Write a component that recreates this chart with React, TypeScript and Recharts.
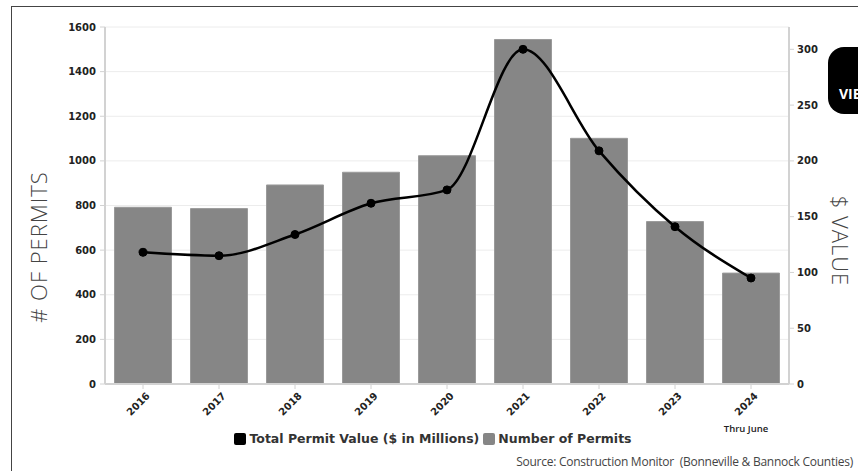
import React from 'react'
import { ComposedChart, Bar, Line, XAxis, YAxis, CartesianGrid, Legend, Text } from 'recharts'

const years = ['2016', '2017', '2018', '2019', '2020', '2021', '2022', '2023', '2024']
const permitCounts = [792, 786, 892, 949, 1023, 1544, 1101, 728, 497]
const permitValues = [118, 115, 134, 162, 174, 300, 209, 141, 95]
const yearNotes = ['', '', '', '', '', '', '', '', 'Thru June']

const countTicks = [0, 200, 400, 600, 800, 1000, 1200, 1400, 1600]
const valueTicks = [0, 50, 100, 150, 200, 250, 300]

const legendItems = [
  { label: 'Total Permit Value ($ in Millions)', color: '#000' },
  { label: 'Number of Permits', color: '#868686' },
]

const data = years.map((year, i) => ({
  year,
  count: permitCounts[i],
  value: permitValues[i],
}))

const tickFont = { fill: '#222', fontSize: 10, fontWeight: 700, fontFamily: 'DejaVu Sans' }
const axisGray = '#d2d2d2'

// year label slanted up to the right, with an optional note under it
function YearTick(props: any) {
  const { x, y, payload, index } = props
  const note = yearNotes[index]
  return (
    <g>
      <Text
        x={x + 5}
        y={y + 3}
        angle={-45}
        textAnchor="end"
        verticalAnchor="middle"
        {...tickFont}
      >
        {payload.value}
      </Text>
      {note ? (
        <text x={x - 5} y={y + 41} textAnchor="middle" fill="#222" fontSize={9.5} fontFamily="Open Sans" fontWeight={600}>
          {note}
        </text>
      ) : null}
    </g>
  )
}

function LegendRow() {
  return (
    <div style={{ height: 40, paddingTop: 6, boxSizing: 'border-box', textAlign: 'center', paddingLeft: 12 }}>
      {legendItems.map((item) => (
        <span
          key={item.label}
          style={{
            display: 'inline-flex',
            alignItems: 'center',
            marginRight: 4,
            fontFamily: 'DejaVu Sans',
            fontWeight: 700,
            fontSize: 12.5,
            color: '#333',
            lineHeight: '18px',
          }}
        >
          <span
            style={{
              display: 'inline-block',
              width: 12,
              height: 12,
              borderRadius: 2,
              background: item.color,
              marginRight: 3,
            }}
          />
          {item.label}
        </span>
      ))}
    </div>
  )
}

const sideLabel = {
  position: 'absolute' as const,
  whiteSpace: 'nowrap' as const,
  fontFamily: 'Open Sans',
  fontWeight: 300,
  fontSize: 22,
  letterSpacing: 1,
  color: '#444',
  lineHeight: '22px',
}

export default function App() {
  return (
    <div
      style={{
        position: 'absolute',
        left: 0,
        top: 0,
        width: 858,
        height: 471,
        overflow: 'hidden',
        background: '#fff',
      }}
    >
      <div
        style={{
          position: 'absolute',
          left: 11,
          top: 6,
          width: 900,
          height: 500,
          borderTop: '1.5px solid #444',
          borderLeft: '1.5px solid #444',
        }}
      />
      <ComposedChart
        width={858}
        height={471}
        data={data}
        margin={{ top: 27, right: 0, left: 0, bottom: 7 }}
        barCategoryGap="12.5%"
      >
        <CartesianGrid yAxisId="count" vertical={false} stroke="#ececec" />
        <XAxis
          dataKey="year"
          interval={0}
          height={40}
          tick={(p: any) => <YearTick {...p} />}
          tickSize={5}
          tickMargin={2}
          axisLine={{ stroke: axisGray, strokeWidth: 2 }}
          tickLine={{ stroke: axisGray }}
        />
        <YAxis
          yAxisId="count"
          width={105}
          domain={[0, 1600]}
          ticks={countTicks}
          tick={tickFont}
          tickSize={5}
          tickMargin={4}
          axisLine={{ stroke: axisGray, strokeWidth: 2 }}
          tickLine={{ stroke: axisGray }}
        />
        <YAxis
          yAxisId="value"
          orientation="right"
          width={69}
          domain={[0, 320]}
          ticks={valueTicks}
          tick={tickFont}
          tickSize={5}
          tickMargin={3}
          axisLine={{ stroke: axisGray, strokeWidth: 2 }}
          tickLine={{ stroke: axisGray }}
        />
        <Legend verticalAlign="bottom" content={() => <LegendRow />} />
        <Bar
          yAxisId="count"
          dataKey="count"
          name="Number of Permits"
          fill="#868686"
          stroke="#9a9a9a"
          strokeWidth={1}
          isAnimationActive={false}
        />
        <Line
          yAxisId="value"
          dataKey="value"
          name="Total Permit Value ($ in Millions)"
          type="monotone"
          stroke="#000"
          strokeWidth={2.5}
          dot={{ r: 4, fill: '#000', stroke: '#000', strokeWidth: 1 }}
          isAnimationActive={false}
        />
      </ComposedChart>
      <div style={{ ...sideLabel, left: 38, top: 247, transform: 'translate(-50%, -50%) rotate(-90deg)' }}>
        # OF PERMITS
      </div>
      <div style={{ ...sideLabel, left: 841, top: 241, transform: 'translate(-50%, -50%) rotate(90deg)' }}>
        $ VALUE
      </div>
      <div
        style={{
          position: 'absolute',
          left: 828,
          top: 47,
          width: 70,
          height: 67,
          background: '#000',
          borderRadius: 16,
          color: '#fff',
          fontFamily: 'Open Sans',
          fontWeight: 700,
          fontSize: 14,
          boxSizing: 'border-box',
          paddingLeft: 11,
          paddingTop: 40,
          lineHeight: '14px',
        }}
      >
        VIEW
      </div>
      <div
        style={{
          position: 'absolute',
          right: 5,
          top: 454,
          whiteSpace: 'pre',
          fontFamily: 'Open Sans',
          fontSize: 12,
          letterSpacing: -0.25,
          color: '#444',
          lineHeight: '16px',
        }}
      >
        {'Source: Construction Monitor  (Bonneville & Bannock Counties)'}
      </div>
    </div>
  )
}
